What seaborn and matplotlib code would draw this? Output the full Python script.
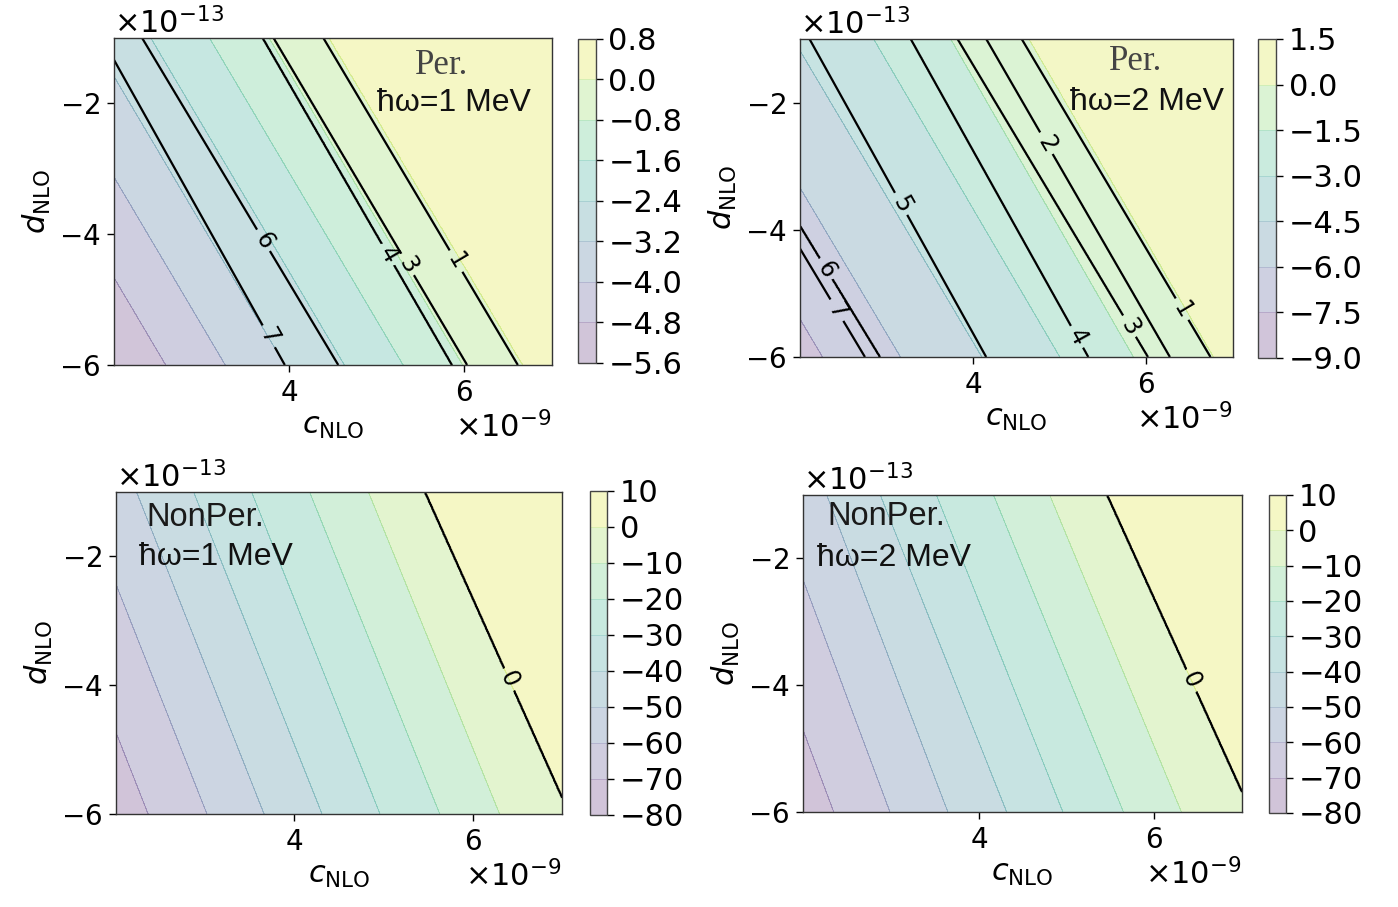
import numpy as np
import matplotlib
matplotlib.use("Agg")
import matplotlib.pyplot as plt
import seaborn as sns
from matplotlib.patches import Rectangle
from matplotlib.ticker import ScalarFormatter

sns.set_theme(style="ticks")
plt.rcParams["font.family"] = ["DejaVu Sans"]
plt.rcParams["mathtext.fontset"] = "dejavusans"
plt.rcParams["axes.edgecolor"] = "#333333"
plt.rcParams["axes.linewidth"] = 1.0
for key in ("text.color", "axes.labelcolor", "xtick.color", "ytick.color"):
    plt.rcParams[key] = "black"

# Parameter window: c_NLO in units of 1e-9, d_NLO in units of 1e-13
C_SCALE, D_SCALE = 1e-9, 1e-13
c_lim = [2.0, 7.0]
d_lim = [-6.0, -1.0]
c_ticks = [4, 6]
d_ticks = [-6, -4, -2]

# ---- Per., hbar*omega = 1 MeV ----
per1_fill_levels = [-5.6, -4.8, -4.0, -3.2, -2.4, -1.6, -0.8, 0.0, 0.8]
per1_fill_nodes = [-4.8, -4.0, -3.2, -2.4, -1.6, -0.8, 0.0, 0.3]
per1_fill_top = [0.38, 1.06, 1.74, 2.42, 3.09, 3.77, 4.45, 7.5]
per1_fill_bottom = [2.59, 3.27, 3.95, 4.63, 5.30, 5.98, 6.66, 9.7]
per1_lines = [1, 3, 4, 6, 7]
per1_lines_top = [4.39, 3.82, 3.70, 2.32, 1.86]
per1_lines_bottom = [6.61, 6.03, 5.86, 4.56, 3.95]
per1_label_c = [5.92, 5.38, 5.15, 3.71, 3.84]
per1_label_d = [-4.40, -4.45, -4.30, -4.10, -5.51]

# ---- Per., hbar*omega = 2 MeV ----
per2_fill_levels = [-9.0, -7.5, -6.0, -4.5, -3.0, -1.5, 0.0, 1.5]
per2_fill_nodes = [-7.5, -6.0, -4.5, -3.0, -1.5, 0.0, 0.7]
per2_fill_top = [0.08, 0.98, 1.92, 2.85, 3.74, 4.64, 7.6]
per2_fill_bottom = [2.26, 3.16, 4.10, 5.00, 5.85, 6.77, 9.8]
per2_lines = [1, 2, 3, 4, 5, 6, 7]
per2_lines_top = [4.56, 4.15, 3.82, 3.28, 2.11, 0.68, 0.55]
per2_lines_bottom = [6.74, 6.27, 6.02, 5.33, 4.15, 2.92, 2.75]
per2_label_c = [6.44, 4.84, 5.83, 5.26, 3.19, 2.31, 2.46]
per2_label_d = [-5.24, -2.66, -5.50, -5.65, -3.59, -4.62, -5.24]

# ---- NonPer., hbar*omega = 1 MeV ----
np1_fill_levels = [-80, -70, -60, -50, -40, -30, -20, -10, 0, 10]
np1_fill_nodes = [-70, -60, -50, -40, -30, -20, -10, 0, 4]
np1_fill_top = [0.94, 1.59, 2.23, 2.87, 3.52, 4.17, 4.83, 5.46, 8.0]
np1_fill_bottom = [2.36, 3.02, 3.66, 4.31, 4.96, 5.63, 6.30, 7.08, 9.6]
np1_lines = [0]
np1_label_c = [6.39]
np1_label_d = [-3.91]

# ---- NonPer., hbar*omega = 2 MeV ----
np2_fill_levels = [-80, -70, -60, -50, -40, -30, -20, -10, 0, 10]
np2_fill_nodes = [-70, -60, -50, -40, -30, -20, -10, 0, 4]
np2_fill_top = [1.00, 1.64, 2.27, 2.88, 3.52, 4.17, 4.81, 5.46, 8.0]
np2_fill_bottom = [2.35, 2.99, 3.65, 4.32, 4.96, 5.65, 6.31, 7.10, 9.6]
np2_lines = [0]
np2_label_c = [6.41]
np2_label_d = [-3.92]

cmap = sns.color_palette("viridis", as_cmap=True)

c_grid = np.linspace(c_lim[0], c_lim[1], 400)
d_grid = np.linspace(d_lim[0], d_lim[1], 300)
CC, DD = np.meshgrid(c_grid, d_grid)


def band_field(values, top, bottom):
    """Field whose iso-lines run straight between their crossings of the
    upper (d=-1) and lower (d=-6) edges of the window."""
    values = np.asarray(values, float)
    top = np.asarray(top, float)
    bottom = np.asarray(bottom, float)
    out = np.empty_like(CC)
    for i, d in enumerate(d_grid):
        t = (d_lim[1] - d) / (d_lim[1] - d_lim[0])
        p = top + (bottom - top) * t
        order = np.argsort(p)
        p, v = p[order], values[order]
        row = np.interp(c_grid, p, v)
        lo = c_grid < p[0]
        row[lo] = v[0] + (c_grid[lo] - p[0]) * (v[1] - v[0]) / (p[1] - p[0])
        hi = c_grid > p[-1]
        row[hi] = v[-1] + (c_grid[hi] - p[-1]) * (v[-1] - v[-2]) / (p[-1] - p[-2])
        out[i] = row
    return out


def draw_panel(fig, ax_rect, cax_rect, fill_levels, nodes, top, bottom,
               line_levels, line_top, line_bottom, lab_c, lab_d,
               title, subtitle, title_xy, sub_xy, title_serif):
    ax = fig.add_axes(ax_rect)
    cax = fig.add_axes(cax_rect)
    F = band_field(nodes, top, bottom)
    X, Y = CC * C_SCALE, DD * D_SCALE
    cf = ax.contourf(X, Y, F, levels=fill_levels, cmap=cmap, alpha=0.25)
    cl = ax.contour(X, Y, F, levels=fill_levels, cmap=cmap, alpha=0.22,
                    linewidths=0.6)
    if line_top is None:
        G = F
    else:
        G = band_field(line_levels, line_top, line_bottom)
    cs = ax.contour(X, Y, G, levels=sorted(line_levels), colors="black",
                    linewidths=1.6)
    manual = [(c * C_SCALE, d * D_SCALE) for c, d in zip(lab_c, lab_d)]
    ax.clabel(cs, fmt="%d", fontsize=17, inline=True, manual=manual)

    ax.set_xlim(c_lim[0] * C_SCALE, c_lim[1] * C_SCALE)
    ax.set_ylim(d_lim[0] * D_SCALE, d_lim[1] * D_SCALE)
    ax.set_xticks([t * C_SCALE for t in c_ticks])
    ax.set_yticks([t * D_SCALE for t in d_ticks])
    for axis in (ax.xaxis, ax.yaxis):
        fmt = ScalarFormatter(useMathText=True)
        axis.set_major_formatter(fmt)
        axis.get_offset_text().set_fontsize(22)
    ax.tick_params(labelsize=20, length=5, width=1, pad=5, colors="black")
    ax.set_xlabel(r"$c_{\rm NLO}$", fontsize=22)
    ax.set_ylabel(r"$d_{\rm NLO}$", fontsize=22)

    if title_serif:
        ax.text(*title_xy, title, transform=ax.transAxes, ha="center",
                va="center", fontsize=25, family=["Liberation Serif"],
                color="#444444")
    else:
        ax.text(*title_xy, title, transform=ax.transAxes, ha="center",
                va="center", fontsize=23.5,
                family=["Liberation Sans", "DejaVu Sans"], color="#1a1a1a")
    ax.text(*sub_xy, subtitle, transform=ax.transAxes, ha="center",
            va="center", fontsize=23,
            family=["Liberation Sans", "DejaVu Sans"], color="#111111")

    cb = fig.colorbar(cf, cax=cax, ticks=fill_levels)
    cb.add_lines(cl)
    cb.ax.tick_params(labelsize=22, length=5, width=1, pad=4, colors="black")
    cb.outline.set_edgecolor("#444444")
    cb.outline.set_linewidth(1.0)
    return ax


W, H = 1398, 907
fig = plt.figure(figsize=(W / 100, H / 100), dpi=100)


def rect(x0, y0, x1, y1):
    return [x0 / W, 1 - y1 / H, (x1 - x0) / W, (y1 - y0) / H]


draw_panel(fig, rect(114, 38, 552, 365), rect(578, 39, 596, 363),
           per1_fill_levels, per1_fill_nodes, per1_fill_top, per1_fill_bottom,
           per1_lines, per1_lines_top, per1_lines_bottom,
           per1_label_c, per1_label_d,
           "Per.", "ħω=1 MeV", (0.747, 0.917), (0.776, 0.801), True)

draw_panel(fig, rect(800, 39, 1233, 357), rect(1258, 39, 1276, 358),
           per2_fill_levels, per2_fill_nodes, per2_fill_top, per2_fill_bottom,
           per2_lines, per2_lines_top, per2_lines_bottom,
           per2_label_c, per2_label_d,
           "Per.", "ħω=2 MeV", (0.774, 0.928), (0.801, 0.802), True)

draw_panel(fig, rect(116, 492, 562, 814), rect(590, 491, 607, 815),
           np1_fill_levels, np1_fill_nodes, np1_fill_top, np1_fill_bottom,
           np1_lines, None, None, np1_label_c, np1_label_d,
           "NonPer.", "ħω=1 MeV", (0.200, 0.922), (0.224, 0.798), False)

draw_panel(fig, rect(803, 495, 1242, 812), rect(1269, 495, 1286, 813),
           np2_fill_levels, np2_fill_nodes, np2_fill_top, np2_fill_bottom,
           np2_lines, None, None, np2_label_c, np2_label_d,
           "NonPer.", "ħω=2 MeV", (0.189, 0.931), (0.207, 0.801), False)

# the right-hand panels end at a hard edge
fig.add_artist(Rectangle((1362 / W, 0), (W - 1362) / W, 1,
                         transform=fig.transFigure, facecolor="white",
                         edgecolor="none", zorder=100))

fig.savefig("out.png", dpi=100, facecolor="white")
